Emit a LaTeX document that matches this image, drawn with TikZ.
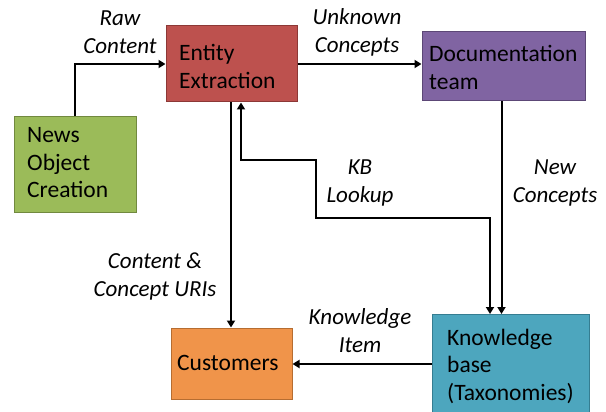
\documentclass[tikz,border=0pt]{standalone}
\usepackage{fontspec}
\setmainfont{Carlito}
\usetikzlibrary{arrows.meta}
\definecolor{eered}{HTML}{BD514E}
\definecolor{eeedge}{HTML}{8C3836}
\definecolor{newsgreen}{HTML}{9BBB59}
\definecolor{newsedge}{HTML}{71893F}
\definecolor{docpurple}{HTML}{8064A2}
\definecolor{docedge}{HTML}{5C4776}
\definecolor{custorange}{HTML}{F0944A}
\definecolor{custedge}{HTML}{B66D31}
\definecolor{kbaqua}{HTML}{4DA6BE}
\definecolor{kbedge}{HTML}{357D91}
\tikzset{
  box/.style={draw, line width=1pt, rectangle, inner sep=0pt},
  boxtext/.style={font=\fontsize{23.5}{27.5}\selectfont, align=left,
    anchor=north west, inner sep=0pt, text=black},
  lbl/.style={font=\fontsize{23}{28}\selectfont\itshape, align=center, inner sep=0pt},
  flow/.style={line width=2pt, -{Triangle[length=7pt,width=8pt]}},
}
\begin{document}
\begin{tikzpicture}[x=1pt,y=-1pt]
\useasboundingbox (0,0) rectangle (606,412);
% boxes
\node[box, fill=eered, draw=eeedge, minimum width=131pt, minimum height=76pt] (ee) at (231.5,64) {};
\node[box, fill=newsgreen, draw=newsedge, minimum width=122pt, minimum height=95pt] (news) at (75,164.5) {};
\node[box, fill=docpurple, draw=docedge, minimum width=163pt, minimum height=69pt] (doc) at (503.5,66.5) {};
\node[box, fill=custorange, draw=custedge, minimum width=121pt, minimum height=71pt] (cust) at (231.5,363.5) {};
\node[box, fill=kbaqua, draw=kbedge, minimum width=157pt, minimum height=108pt, anchor=north] (kb) at (510.5,314) {};
% box texts
\node[boxtext] (eetext) at (179,44.5) {Entity\\Extraction};
\node[boxtext] (newstext) at (27,127.5) {News\\Object\\Creation};
\node[boxtext] (doctext) at (429,45.5) {Documentation\\team};
\node[boxtext] (custtext) at (177,355.5) {Customers};
\node[boxtext] (kbtext) at (447,328.5) {Knowledge\\base\\(Taxonomies)};
% helper points
\coordinate (c1) at (75,64);
\coordinate (k1) at (316,160);
\coordinate (k2) at (316,218);
% connectors
\draw[flow] (news.north -| c1) |- (ee.west);
\draw[flow] (ee.east |- c1) -- (doc.west |- c1);
\draw[flow] (ee.south -| 231,0) -- (cust.north -| 231,0);
\draw[line width=2pt, {Triangle[length=7pt,width=8pt]}-{Triangle[length=7pt,width=8pt]}]
  (ee.south -| 241,0) |- (k1) -- (k2) -| (kb.north -| 490,0);
\draw[flow] (doc.south -| 501.5,0) -- (kb.north -| 501.5,0);
\draw[flow] (kb.west |- 0,364) -- (cust.east |- 0,364);
% labels
\node[lbl] (l1) at (120,32) {Raw\\Content};
\node[lbl] (l2) at (357,32) {Unknown\\Concepts};
\node[lbl] (l3) at (360,183) {KB\\Lookup};
\node[lbl] (l4) at (555,183) {New\\Concepts};
\node[lbl] (l5) at (155,277) {Content \&\\Concept URIs};
\node[lbl] (l6) at (360,331) {Knowledge\\Item};
\end{tikzpicture}
\end{document}
